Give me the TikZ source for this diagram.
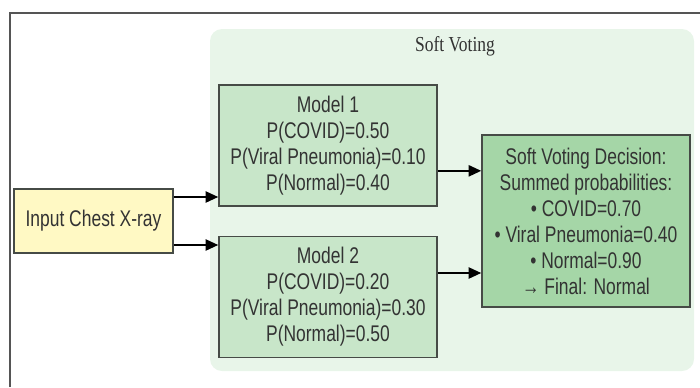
\documentclass[tikz,border=0pt]{standalone}
\usepackage{fontspec}
\setmainfont{Liberation Sans}[FakeStretch=0.77]
\newfontfamily\titlefont{Liberation Serif}[FakeStretch=0.82]
\usetikzlibrary{arrows.meta}
\definecolor{framegray}{RGB}{85,85,85}
\definecolor{boxline}{RGB}{70,75,70}
\definecolor{textgray}{RGB}{51,51,51}
\definecolor{clusterfill}{RGB}{232,245,233}
\definecolor{inputfill}{RGB}{255,249,196}
\definecolor{modelfill}{RGB}{200,230,201}
\definecolor{decisionfill}{RGB}{165,214,167}
\tikzset{
  box/.style={draw=boxline, line width=1.2pt, align=center, inner sep=0pt,
    text=textgray, font=\fontsize{17}{19.5}\selectfont},
  conn/.style={draw=black, line width=1.3pt, -{Triangle[length=9.5pt,width=8.5pt]}}
}
\begin{document}
\begin{tikzpicture}[x=0.75pt,y=0.75pt,yscale=-1,xscale=1]
\useasboundingbox (0,0) rectangle (700,387);

%Straight Lines: outer frame
\draw [framegray, line width=1.1pt] (10,387) -- (10,13) -- (700,13) ;

%Shape: Rounded Rectangle
\node [fill=clusterfill, rounded corners=9pt, minimum width=363pt, minimum height=256.5pt, inner sep=0pt] (vote) at (452,200) {};
% Text Node
\node [text=textgray, font=\titlefont\fontsize{16}{18}\selectfont] (votetitle) at (455,46) {Soft Voting};

%Shape: Rectangle
\node [box, fill=inputfill, minimum width=119.25pt, minimum height=48pt] (xray) at (93.5,221) {Input Chest X-ray};

%Shape: Rectangle
\node [box, fill=modelfill, minimum width=163.5pt, minimum height=90.75pt] (model1) at (328,145.5) {Model 1\\P(COVID)=0.50\\P(Viral Pneumonia)=0.10\\P(Normal)=0.40};
%Shape: Rectangle
\node [box, fill=modelfill, minimum width=163.5pt, minimum height=90.75pt] (model2) at (328,297) {Model 2\\P(COVID)=0.20\\P(Viral Pneumonia)=0.30\\P(Normal)=0.50};

%Shape: Rectangle
\node [box, fill=decisionfill, minimum width=156pt, minimum height=129pt] (decision) at (586,221) {Soft Voting Decision:\\Summed probabilities:\\• COVID=0.70\\• Viral Pneumonia=0.40\\• Normal=0.90\\→ Final: Normal};

%Straight Lines
\draw [conn] ([yshift=-18pt]xray.east) -- ([yshift=-18pt]xray.east -| model1.west) ;
\draw [conn] ([yshift=18pt]xray.east) -- ([yshift=18pt]xray.east -| model2.west) ;
\draw [conn] ([yshift=19pt]model1.east) -- ([yshift=19pt]model1.east -| decision.west) ;
\draw [conn] ([yshift=-18pt]model2.east) -- ([yshift=-18pt]model2.east -| decision.west) ;

\end{tikzpicture}
\end{document}
